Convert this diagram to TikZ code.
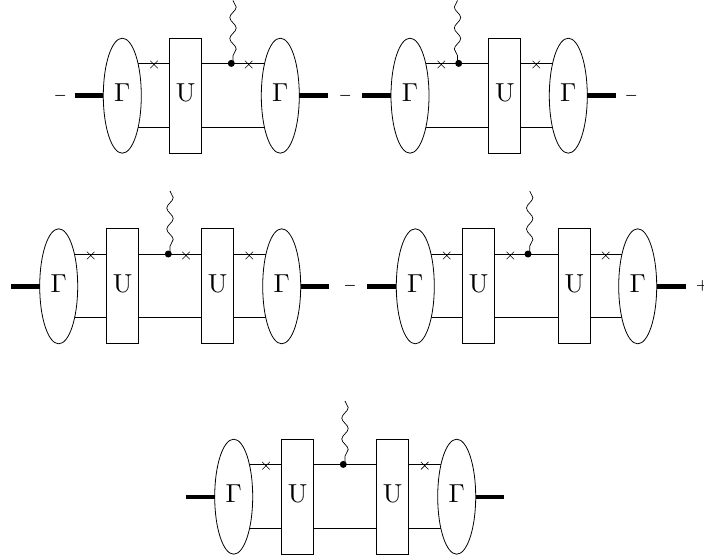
\documentclass[tikz,border=0pt]{standalone}
\usepackage{graphicx}
\usetikzlibrary{shapes.geometric,shapes.misc,decorations.pathmorphing,backgrounds}
\newcommand{\lab}[1]{\scalebox{2.6}{#1}}
\tikzset{
  x=1pt,y=-1pt,
  gam/.style={draw,ellipse,fill=white,inner sep=0pt,outer sep=0pt,minimum width=38pt,minimum height=115pt,line width=.8pt,text height=18pt,text depth=6pt},
  ubox/.style={draw,rectangle,fill=white,inner sep=0pt,outer sep=0pt,minimum width=32pt,minimum height=115pt,line width=.8pt,text height=18pt,text depth=6pt},
  wire/.style={line width=.8pt},
  thickwire/.style={line width=4.4pt},
  crs/.style={cross out,draw,inner sep=0pt,outer sep=0pt,minimum size=7.5pt,line width=.6pt},
  vtx/.style={circle,fill=black,inner sep=0pt,minimum size=7pt},
  wig/.style={decorate,decoration={snake,segment length=21pt,amplitude=3.2pt},line width=.7pt},
  wigm/.style={decorate,decoration={snake,mirror,segment length=21pt,amplitude=3.2pt},line width=.7pt},
  sgn/.style={inner sep=0pt,font=\fontsize{13.5}{14}\selectfont\boldmath}
}
% #1 prefix, #2 cy, #3 dot x, #4 wiggle top y, #5 wiggle style, #6 wiggle x offset
\newcommand{\boson}[6]{%
  \node[vtx] (#1d) at (#3,#2-32.3) {};
  \coordinate (#1t) at (#3+#6,#4);
  \coordinate (#1e) at (#3+#6,#2-32.3);
  \draw[#5] (#1t) -- (#1e);
}
\newcommand{\wires}[3]{% #1 left node, #2 right node, #3 cy
  \begin{scope}[on background layer]
    \draw[wire] (#1.center |- 0,#3-32.3) -- (#2.center |- 0,#3-32.3);
    \draw[wire] (#1.center |- 0,#3+31.3) -- (#2.center |- 0,#3+31.3);
  \end{scope}
}
\begin{document}
\begin{tikzpicture}
\useasboundingbox (0,0) rectangle (704,559);
% Row 1 left
\node[gam] (a1) at (122.3,95.7) {\lab{$\Gamma$}};
\node[ubox] (a2) at (185.5,95.7) {\lab{U}};
\node[gam] (a3) at (280.3,95.7) {\lab{$\Gamma$}};
\wires{a1}{a3}{95.7}
\coordinate (a4) at (75,95.7);
\coordinate (a5) at (327.5,95.7);
\draw[thickwire] (a4) -- (a1);
\draw[thickwire] (a3) -- (a5);
\node[crs] (ax1) at (154,64.5) {};
\node[crs] (ax2) at (248.7,64.5) {};
\boson{a}{95.7}{231.3}{0.5}{wig}{1.7}
\node[sgn] (as1) at (60.3,95.7) {$-$};
\node[sgn] (as2) at (345.3,95.7) {$-$};
% Row 1 right
\node[gam] (b1) at (410,95.7) {\lab{$\Gamma$}};
\node[ubox] (b2) at (504.8,95.7) {\lab{U}};
\node[gam] (b3) at (568.3,95.7) {\lab{$\Gamma$}};
\wires{b1}{b3}{95.7}
\coordinate (b4) at (362.3,95.7);
\coordinate (b5) at (615.7,95.7);
\draw[thickwire] (b4) -- (b1);
\draw[thickwire] (b3) -- (b5);
\node[crs] (bx1) at (441.3,64.5) {};
\node[crs] (bx2) at (536.3,64.5) {};
\boson{b}{95.7}{458.7}{0.5}{wigm}{-1.2}
\node[sgn] (bs1) at (631.3,95.7) {$-$};
% Row 2 left
\node[gam] (c1) at (58.7,286.3) {\lab{$\Gamma$}};
\node[ubox] (c2) at (122.7,286.3) {\lab{U}};
\node[ubox] (c3) at (217.7,286.3) {\lab{U}};
\node[gam] (c4) at (281.7,286.3) {\lab{$\Gamma$}};
\wires{c1}{c4}{286.3}
\coordinate (c5) at (11,286.3);
\coordinate (c6) at (329.3,286.3);
\draw[thickwire] (c5) -- (c1);
\draw[thickwire] (c4) -- (c6);
\node[crs] (cx1) at (90.7,255.5) {};
\node[crs] (cx2) at (186,255.5) {};
\node[crs] (cx3) at (249.3,255.5) {};
\boson{c}{286.3}{168.3}{191}{wig}{1.7}
\node[sgn] (cs1) at (350,286.3) {$-$};
% Row 2 right
\node[gam] (d1) at (415.3,286.3) {\lab{$\Gamma$}};
\node[ubox] (d2) at (478.7,286.3) {\lab{U}};
\node[ubox] (d3) at (574.3,286.3) {\lab{U}};
\node[gam] (d4) at (637.7,286.3) {\lab{$\Gamma$}};
\wires{d1}{d4}{286.3}
\coordinate (d5) at (367.3,286.3);
\coordinate (d6) at (685.7,286.3);
\draw[thickwire] (d5) -- (d1);
\draw[thickwire] (d4) -- (d6);
\node[crs] (dx1) at (446.7,255.5) {};
\node[crs] (dx2) at (510.3,255.5) {};
\node[crs] (dx3) at (605.7,255.5) {};
\boson{d}{286.3}{528}{191}{wig}{1.7}
\node[sgn] (ds1) at (702.3,286.3) {$+$};
% Row 3
\node[gam] (e1) at (233.7,496.7) {\lab{$\Gamma$}};
\node[ubox] (e2) at (297.7,496.7) {\lab{U}};
\node[ubox] (e3) at (392.7,496.7) {\lab{U}};
\node[gam] (e4) at (456.7,496.7) {\lab{$\Gamma$}};
\wires{e1}{e4}{496.7}
\coordinate (e5) at (186,496.7);
\coordinate (e6) at (504,496.7);
\draw[thickwire] (e5) -- (e1);
\draw[thickwire] (e4) -- (e6);
\node[crs] (ex1) at (266,465.7) {};
\node[crs] (ex2) at (424.7,465.7) {};
\boson{e}{496.7}{343.3}{401}{wig}{1.7}
\end{tikzpicture}
\end{document}
